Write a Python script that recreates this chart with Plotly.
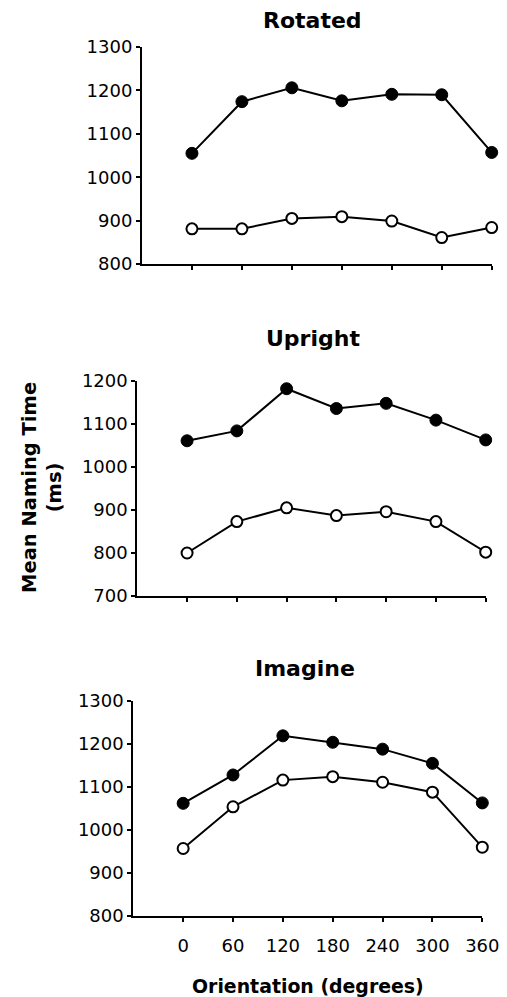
import plotly.graph_objects as go

orientation = [0, 60, 120, 180, 240, 300, 360]
x_tick_labels = ["0", "60", "120", "180", "240", "300", "360"]

rotated_filled = [1055, 1174, 1206, 1176, 1191, 1190, 1057]
rotated_open = [881, 881, 905, 909, 899, 861, 884]
upright_filled = [1061, 1084, 1182, 1136, 1148, 1109, 1063]
upright_open = [800, 873, 905, 887, 896, 873, 802]
imagine_filled = [1062, 1128, 1219, 1204, 1188, 1155, 1063]
imagine_open = [957, 1054, 1116, 1124, 1111, 1088, 960]

panel_titles = ["Rotated", "Upright", "Imagine"]
y_ranges = [[800, 1300], [700, 1200], [800, 1300]]
y_title = "Mean Naming Time<br>(ms)"
x_title = "Orientation (degrees)"

OFF = 8  # page body margin
W, H = 507 - OFF, 997 - OFF
FONT = "DejaVu Sans"

def px(x):
    return (x - OFF) / W

def py(y):
    return 1 - (y - OFF) / H

# target screen-pixel geometry of each panel: (x_left, x_right, y_top, y_bottom)
geom = [(142, 491.7, 47, 264), (137.3, 485.7, 381, 596), (133.3, 482.3, 701, 916)]
title_pos = [(312, 20), (313, 338), (305, 668)]

series = [(rotated_filled, rotated_open), (upright_filled, upright_open), (imagine_filled, imagine_open)]

fig = go.Figure()
layout = dict(
    width=W, height=H, margin=dict(l=0, r=0, t=0, b=0, autoexpand=False),
    paper_bgcolor="white", plot_bgcolor="white", showlegend=False,
    font=dict(family=FONT, color="black", size=18),
)
annotations = []
for i, ((filled, opened), (xl, xr, yt, yb), rng) in enumerate(zip(series, geom, y_ranges)):
    sfx = "" if i == 0 else str(i + 1)
    xa, ya = "x" + sfx, "y" + sfx
    fig.add_trace(go.Scatter(
        x=orientation, y=filled, xaxis=xa, yaxis=ya, mode="lines+markers",
        line=dict(color="black", width=2),
        marker=dict(symbol="circle", size=12, color="black", line=dict(color="black", width=1)),
        cliponaxis=False))
    fig.add_trace(go.Scatter(
        x=orientation, y=opened, xaxis=xa, yaxis=ya, mode="lines+markers",
        line=dict(color="black", width=2),
        marker=dict(symbol="circle", size=11, color="white", line=dict(color="black", width=2)),
        cliponaxis=False))
    last = i == 2
    layout["xaxis" + sfx] = dict(
        domain=[px(xl), px(xr)], range=[-60, 360], anchor=ya, automargin=False,
        tickmode="array", tickvals=orientation,
        ticktext=x_tick_labels if last else [""] * len(orientation),
        showticklabels=last, ticks="outside", ticklen=4, tickwidth=1.5, tickcolor="black",
        showline=True, linecolor="black", linewidth=2, showgrid=False, zeroline=False,
        ticklabelstandoff=8, tickfont=dict(size=18, family=FONT, color="black"),
    )
    layout["yaxis" + sfx] = dict(
        domain=[py(yb), py(yt)], range=rng, anchor=xa, automargin=False,
        tickmode="linear", tick0=rng[0], dtick=100,
        ticks="outside", ticklen=4, tickwidth=1.5, tickcolor="black",
        showline=True, linecolor="black", linewidth=2, showgrid=False, zeroline=False,
        ticklabelstandoff=0, tickfont=dict(size=18, family=FONT, color="black"),
    )
    tx, ty = title_pos[i]
    annotations.append(dict(text=panel_titles[i], x=px(tx), y=py(ty), xref="paper", yref="paper",
                            showarrow=False, xanchor="center", yanchor="middle",
                            font=dict(size=22, family=FONT, color="black", weight="bold")))

annotations.append(dict(text=y_title, x=px(42), y=py(488), xref="paper", yref="paper",
                        showarrow=False, textangle=-90, xanchor="center", yanchor="middle",
                        font=dict(size=19.5, family=FONT, color="black", weight="bold")))
annotations.append(dict(text=x_title, x=px(308), y=py(986), xref="paper", yref="paper",
                        showarrow=False, xanchor="center", yanchor="middle",
                        font=dict(size=18.9, family=FONT, color="black", weight="bold")))
layout["annotations"] = annotations
fig.update_layout(**layout)
fig.write_html("out.html")
